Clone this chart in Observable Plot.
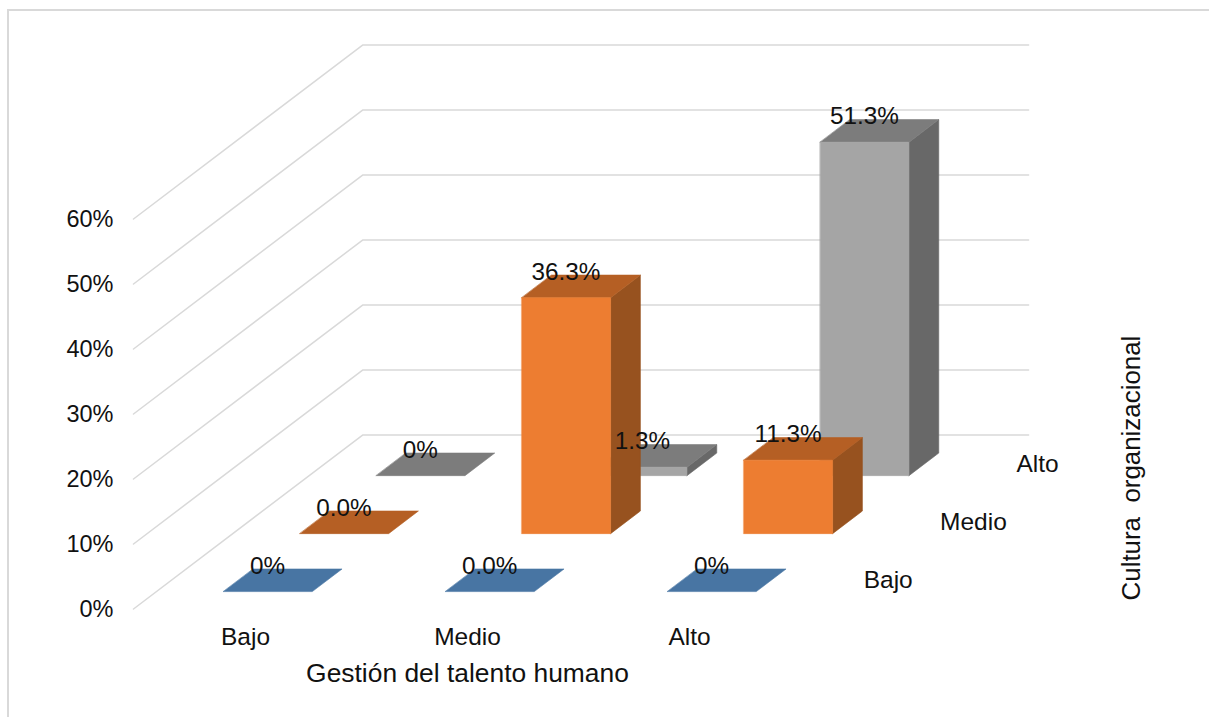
<!DOCTYPE html>
<html lang="es">
<head>
<meta charset="utf-8">
<title>Gestión del talento humano y cultura organizacional</title>
<script src="https://cdn.jsdelivr.net/npm/d3@7"></script>
<script src="https://cdn.jsdelivr.net/npm/@observablehq/plot@0.6"></script>
<style>
  html, body { margin: 0; padding: 0; background: #fff; overflow: hidden; }
  #chart { position: relative; width: 1209px; height: 717px; }
  #chart svg { position: absolute; left: 0; top: 0; background: transparent; }
  #frame { position: absolute; left: 7px; top: 9px; right: 0; bottom: 0;
           border-left: 2px solid #d9d9d9; border-top: 2px solid #d9d9d9; }
</style>
</head>
<body>
<div id="chart"><div id="frame"></div></div>
<script>
// Category levels shared by both axes
const levels = ["Bajo", "Medio", "Alto"];
const percentTicks = [0, 10, 20, 30, 40, 50, 60];

// Percentages per "Cultura organizacional" level, one value per "Gestión" level
const valuesBajo = [0, 0, 0];
const valuesMedio = [0, 36.3, 11.3];
const valuesAlto = [0, 1.3, 51.3];

// Data labels as they are printed on each bar
const labelsBajo = ["0%", "0.0%", "0%"];
const labelsMedio = ["0.0%", "36.3%", "11.3%"];
const labelsAlto = ["0%", "1.3%", "51.3%"];

// Front, top and side shades of each series
const shadesBajo = ["#5b9bd5", "#4875a3", "#3d6389"];
const shadesMedio = ["#ed7d31", "#b55f24", "#97521f"];
const shadesAlto = ["#a5a5a5", "#7c7c7c", "#686868"];

const rowValues = [valuesBajo, valuesMedio, valuesAlto];
const rowLabels = [labelsBajo, labelsMedio, labelsAlto];
const rowShades = [shadesBajo, shadesMedio, shadesAlto];

// Oblique view: each unit of depth shifts a point right and up
const skewX = 0.344;
const skewY = 8.92;
const project = (col, depth, value) => ({x: col + depth * skewX, y: value + depth * skewY});

// Bar footprint inside its cell of the floor
const insetCol = 0.302, barCols = 0.4, insetDepth = 0.3, barDepth = 0.39;

function face(points, fill) {
  return Plot.line(points, {x: "x", y: "y", fill, stroke: fill, strokeWidth: 0.6, curve: "linear-closed"});
}

// One box: side, top and front faces
function box(col, row, value, [front, top, side]) {
  const c0 = col + insetCol, c1 = c0 + barCols;
  const d0 = row + insetDepth, d1 = d0 + barDepth;
  const marks = [];
  if (value > 0) {
    marks.push(face([project(c1, d0, 0), project(c1, d1, 0), project(c1, d1, value), project(c1, d0, value)], side));
  }
  marks.push(face([project(c0, d0, value), project(c1, d0, value), project(c1, d1, value), project(c0, d1, value)], top));
  if (value > 0) {
    marks.push(face([project(c0, d0, 0), project(c1, d0, 0), project(c1, d0, value), project(c0, d0, value)], front));
  }
  return marks;
}

// Walls: each gridline runs along the left side, then across the back
const gridlines = percentTicks.flatMap((v) => [
  {...project(0, 0, v), v},
  {...project(0, 3, v), v},
  {...project(3, 3, v), v}
]);

// Boxes are painted from the back row forward
const bars = [2, 1, 0].flatMap((row) =>
  levels.flatMap((_, col) => box(col, row, rowValues[row][col], rowShades[row]))
);

const valueLabels = levels.flatMap((_, row) =>
  levels.map((_, col) => {
    const value = rowValues[row][col];
    const at = project(col + insetCol + barCols / 2, row + insetDepth + barDepth, value);
    return {...at, text: rowLabels[row][col]};
  })
);

const font = {fontFamily: "Liberation Sans, Arial, sans-serif", fill: "#111"};

const chart = Plot.plot({
  width: 1209,
  height: 717,
  marginLeft: 113,
  marginTop: 0,
  marginRight: 0,
  marginBottom: 0,
  style: {background: "transparent"},
  x: {domain: [0, 1], range: [133, 355], axis: null},
  y: {domain: [0, 60], range: [608.5, 218.5]},
  marks: [
    Plot.line(gridlines, {x: "x", y: "y", z: "v", stroke: "#d9d9d9", strokeWidth: 1.5}),
    Plot.axisY({
      ticks: percentTicks,
      tickSize: 0,
      tickPadding: 0,
      label: null,
      tickFormat: (d) => `${d}%`,
      fontSize: 23.5,
      ...font
    }),
    ...bars,
    Plot.text(valueLabels, {x: "x", y: "y", text: "text", dx: -30, dy: -3, fontSize: 24.3, ...font}),
    // Categories of the front axis
    Plot.text(levels, {
      x: (_, i) => project(i + 0.5, 0, 0).x,
      y: () => project(0, 0, 0).y,
      text: (d) => d,
      dx: 1,
      dy: 28,
      fontSize: 24.5,
      ...font
    }),
    // Categories of the depth axis
    Plot.text(levels, {
      x: (_, i) => project(3, i + 0.5, 0).x,
      y: (_, i) => project(3, i + 0.5, 0).y,
      text: (d) => d,
      textAnchor: "start",
      dx: 26,
      fontSize: 24.5,
      ...font
    }),
    // Axis titles
    Plot.text(["Gestión del talento humano"], {
      x: () => project(1.5, 0, 0).x,
      y: () => project(0, 0, 0).y,
      text: (d) => d,
      dx: 1,
      dy: 65,
      fontSize: 26.4,
      ...font
    }),
    Plot.text(["Cultura  organizacional"], {
      x: () => project(3, 3, 0).x,
      y: () => project(3, 3, 0).y,
      text: (d) => d,
      rotate: -90,
      dx: 103,
      dy: 33,
      fontSize: 25.9,
      ...font
    })
  ]
});

document.getElementById("chart").appendChild(chart);
</script>
</body>
</html>
